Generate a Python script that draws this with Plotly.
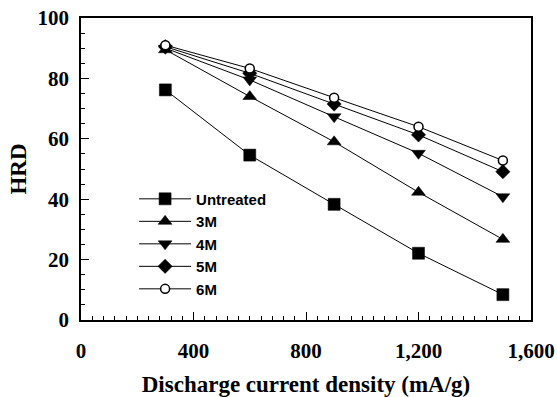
import plotly.graph_objects as go

x_vals = [300, 600, 900, 1200, 1500]
untreated = [76.2, 54.6, 38.3, 22.1, 8.4]
m3 = [89.5, 74.0, 59.0, 42.3, 26.7]
m4 = [90.0, 79.5, 67.3, 55.2, 40.8]
m5 = [90.5, 81.7, 71.5, 61.3, 49.1]
m6 = [91.0, 83.3, 73.6, 64.0, 52.8]

series = [
    ("Untreated", untreated, "square", 12, "black"),
    ("3M", m3, "triangle-up", 12, "black"),
    ("4M", m4, "triangle-down", 12, "black"),
    ("5M", m5, "diamond", 11, "black"),
    ("6M", m6, "circle", 9, "white"),
]

fig = go.Figure()
for name, ys, sym, size, fill in series:
    fig.add_trace(go.Scatter(
        x=x_vals, y=ys, name=name, mode="lines+markers",
        line=dict(color="black", width=1),
        marker=dict(symbol=sym, size=size, color=fill,
                    line=dict(color="black", width=1.5 if fill == "white" else 0.5)),
    ))

tick_font = dict(family="Liberation Serif", size=21, color="black", weight="bold")
title_font = dict(family="Liberation Serif", size=23, color="black", weight="bold")

axis_common = dict(
    showline=True, linecolor="black", linewidth=1.5, mirror=True,
    ticks="inside", ticklen=8, tickwidth=1, tickcolor="black",
    showgrid=False, zeroline=False, automargin=False,
    tickfont=tick_font,
)

fig.update_layout(
    width=557, height=397,
    margin=dict(l=81, r=26, t=18, b=77),
    paper_bgcolor="white", plot_bgcolor="white",
    xaxis=dict(range=[0, 1600], dtick=400, tickformat=",", ticklabelstandoff=11,
               minor=dict(dtick=40, ticks="inside", ticklen=4, tickcolor="black"),
               title=dict(text="Discharge current density (mA/g)", standoff=18, font=title_font),
               **axis_common),
    yaxis=dict(range=[0, 100], dtick=20, ticklabelstandoff=6,
               minor=dict(dtick=5, ticks="inside", ticklen=4, tickcolor="black"),
               title=dict(text="HRD", standoff=4, font=title_font),
               **axis_common),
    legend=dict(x=0.118, y=0.455, xanchor="left", yanchor="top",
                bgcolor="rgba(0,0,0,0)",
                font=dict(family="Liberation Sans", size=15, color="black", weight="bold"),
                itemwidth=52, tracegroupgap=0),
    showlegend=True,
)

fig.write_html("out.html", config={"displayModeBar": False},
               post_script="document.body.style.margin='0';document.body.style.overflow='hidden';")
